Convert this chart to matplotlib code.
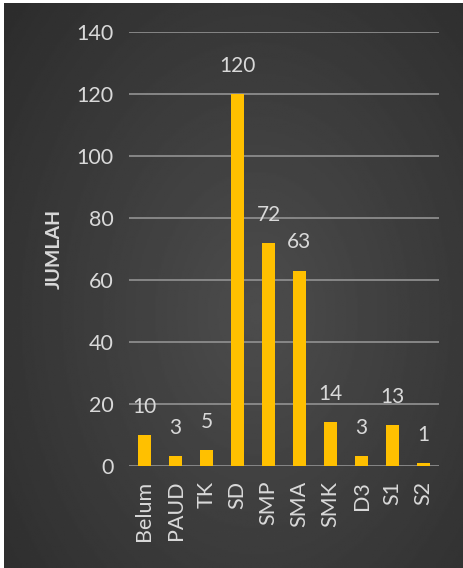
import numpy as np
import matplotlib.pyplot as plt

# Jumlah penduduk per tingkat pendidikan
kategori = ['Belum', 'PAUD', 'TK', 'SD', 'SMP', 'SMA', 'SMK', 'D3', 'S1', 'S2']
jumlah = [10, 3, 5, 120, 72, 63, 14, 3, 13, 1]
y_ticks = [0, 20, 40, 60, 80, 100, 120, 140]

plt.rcParams['font.family'] = ['Lato', 'DejaVu Sans']
teks = '#d9d9d9'

W, H = 463, 568
fig = plt.figure(figsize=(W / 100, H / 100), dpi=100, facecolor='white')

## Latar belakang gelap dengan gradasi radial
bg = fig.add_axes([4 / W, 0, 1 - 4 / W, 1 - 3 / H], zorder=0)
yy, xx = np.mgrid[0:1:300j, 0:1:300j]
r = np.sqrt(((xx - 0.55) / 0.75) ** 2 + ((yy - 0.55) / 0.85) ** 2)
shade = np.clip(0.30 - 0.13 * r, 0.16, 0.30)
bg.imshow(shade, cmap='gray', vmin=0, vmax=1, aspect='auto', extent=[0, 1, 0, 1])
bg.axis('off')

ax = fig.add_axes([129 / W, 102.3 / H, 310 / W, (536 - 102.3) / H], zorder=1)
ax.patch.set_alpha(0)

x = np.arange(len(kategori))
ax.bar(x, jumlah, width=0.42, color='#ffc000', zorder=3)

for xi, v in zip(x, jumlah):
    ax.annotate(str(v), (xi, v), xytext=(0, 13), textcoords='offset points',
                ha='center', va='bottom', color=teks, fontsize=15)

ax.set_ylim(0, 140)
ax.set_xlim(-0.5, len(kategori) - 0.5)
ax.set_yticks(y_ticks)
ax.set_xticks(x)
ax.set_xticklabels(kategori, rotation=90)
ax.tick_params(axis='both', length=0, colors=teks, labelsize=15.5, pad=11)
ax.grid(axis='y', color='#8c8c8c', linewidth=1.3, zorder=1)
for s in ax.spines.values():
    s.set_visible(False)

ax.set_ylabel('JUMLAH', color=teks, fontsize=14, fontweight='bold')
ax.yaxis.set_label_coords(-0.215, 0.5)

fig.savefig('out.png', dpi=100, facecolor='white')
